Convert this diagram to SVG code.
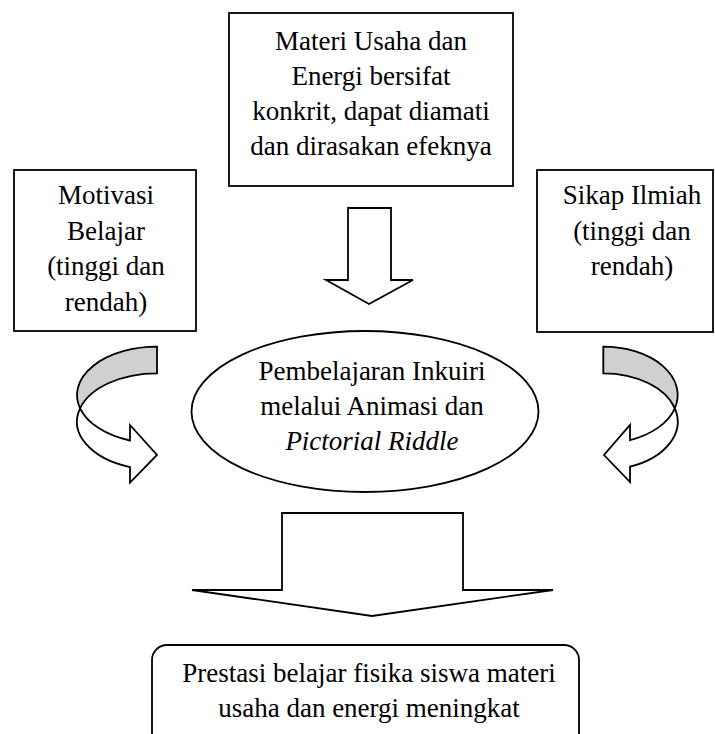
<svg xmlns="http://www.w3.org/2000/svg" width="715" height="734" viewBox="0 0 715 734">
<style>
.box{fill:#fff;stroke:#000;stroke-width:1.8}
.arr{fill:#fff;stroke:#000;stroke-width:1.8;stroke-linejoin:miter}
.grey{fill:#d0d0d0;stroke:#000;stroke-width:1.8}
text{font-family:"Liberation Serif","Times New Roman",serif;font-size:27px;fill:#000;text-anchor:middle}
.it{font-style:italic}
</style>
<rect width="715" height="734" fill="#fff"/>
<g id="connectors">
<path class="arr" d="M348,208 L391,208 L391,280 L413,280 L369,304 L326,280 L348,280 Z"/>
<path class="arr" d="M282,513 L463,513 L463,590 L553,590 L372,616 L192,590 L282,590 Z"/>
<g id="curved-left">
<path class="grey" d="M157,346.7 A80,48.3 0 0,0 80.1,408.3 A80,48.3 0 0,1 157,373.3 Z"/>
<path class="arr" d="M80.1,408.3 A80,48.3 0 0,0 130,440.5 L130,425 L157,455 L130,482.6 L130,467.1 A80,48.3 0 0,1 80.1,408.3 Z"/>
</g>
<g id="curved-right">
<path class="grey" d="M603.3,346.7 A74.4,48.3 0 0,1 674.8,408.3 A74.4,48.3 0 0,0 603.3,373.3 Z"/>
<path class="arr" d="M674.8,408.3 A74.4,48.3 0 0,1 630,440.1 L630,425 L604,455 L630,482 L630,466.7 A74.4,48.3 0 0,0 674.8,408.3 Z"/>
</g>
</g>
<g id="materi">
<rect class="box" x="229" y="13" width="284" height="173"/>
<text x="371" y="50">Materi Usaha dan</text>
<text x="371" y="85">Energi bersifat</text>
<text x="371" y="120">konkrit, dapat diamati</text>
<text x="371" y="155">dan dirasakan efeknya</text>
</g>
<g id="motivasi">
<rect class="box" x="14" y="170" width="182" height="161"/>
<text x="106" y="204">Motivasi</text>
<text x="106" y="239.5">Belajar</text>
<text x="106" y="275">(tinggi dan</text>
<text x="106" y="310.5">rendah)</text>
</g>
<g id="sikap">
<rect class="box" x="537" y="170" width="176" height="162"/>
<text x="632" y="204">Sikap Ilmiah</text>
<text x="632" y="239.5">(tinggi dan</text>
<text x="632" y="275">rendah)</text>
</g>
<g id="pembelajaran">
<ellipse class="box" cx="365" cy="411.5" rx="173.5" ry="80.5"/>
<text x="372" y="380">Pembelajaran Inkuiri</text>
<text x="372" y="415">melalui Animasi dan</text>
<text x="372" y="450" class="it">Pictorial Riddle</text>
</g>
<g id="prestasi">
<rect class="box" x="152" y="645" width="427" height="110" rx="15" ry="15"/>
<text x="369" y="682">Prestasi belajar fisika siswa materi</text>
<text x="369" y="717">usaha dan energi meningkat</text>
</g>
</svg>
